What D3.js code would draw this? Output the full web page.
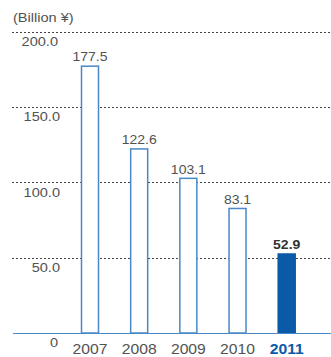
<!DOCTYPE html>
<html>
<head>
<meta charset="utf-8">
<script src="https://cdn.jsdelivr.net/npm/d3@7"></script>
<style>
  html, body { margin: 0; padding: 0; background: #fff; }
  svg { display: block; font-family: "Liberation Sans", Arial, Helvetica, sans-serif; }
</style>
</head>
<body>
<svg id="chart" width="331" height="357"></svg>
<script>
// Fiscal years and values (Billion ¥)
const years = ["2007", "2008", "2009", "2010", "2011"];
const values = [177.5, 122.6, 103.1, 83.1, 52.9];
const valueLabels = ["177.5", "122.6", "103.1", "83.1", "52.9"];
const tickValues = [0, 50, 100, 150, 200];
const tickLabels = ["0", "50.0", "100.0", "150.0", "200.0"];
const unitLabel = "(Billion ¥)";
const highlightYear = "2011";

const svg = d3.select("#chart");
const blue = "#0b5aa8";
const outline = "#4a88c8";
const textGrey = "#525252";
const sx = 1.12; // horizontal stretch of the lettering

const y = d3.scaleLinear().domain([0, 200]).range([333, 31.5]);
const x = d3.scalePoint().domain(years).range([90, 286.7]);
const barW = 18.5;

function stretchedText(g, tx, ty, str, anchor) {
  return g.append("text")
    .attr("transform", `translate(${tx},${ty}) scale(${sx},1)`)
    .attr("text-anchor", anchor)
    .text(str);
}

// unit label
stretchedText(svg, 13, 22, unitLabel, "start")
  .attr("font-size", 13).attr("fill", textGrey);

// dashed gridlines
svg.append("g").selectAll("line")
  .data(tickValues.filter(v => v > 0))
  .join("line")
  .attr("x1", 12).attr("x2", 331)
  .attr("y1", d => Math.round(y(d)) + 0.5)
  .attr("y2", d => Math.round(y(d)) + 0.5)
  .attr("stroke", "#444")
  .attr("stroke-width", 1)
  .attr("stroke-dasharray", "2,2");

// tick labels under each gridline
const tg = svg.append("g").attr("font-size", 13).attr("fill", textGrey);
tickValues.forEach((v, i) => {
  const ty = v === 0 ? 347 : y(v) + 14.5;
  const tx = v === 0 ? 58 : (v === 200 ? 58 : 60);
  stretchedText(tg, tx, ty, tickLabels[i], "end");
});

// bars
svg.append("g").selectAll("rect")
  .data(years)
  .join("rect")
  .attr("x", d => x(d) - barW / 2 + 0.75)
  .attr("width", barW - 1.5)
  .attr("y", (d, i) => y(values[i]) + 0.75)
  .attr("height", (d, i) => y(0) - y(values[i]) - 0.75)
  .attr("fill", d => d === highlightYear ? blue : "#fff")
  .attr("stroke", d => d === highlightYear ? blue : outline)
  .attr("stroke-width", 1.5);

// baseline
svg.append("line")
  .attr("x1", 13).attr("x2", 331)
  .attr("y1", y(0) + 0.5).attr("y2", y(0) + 0.5)
  .attr("stroke", outline).attr("stroke-width", 1.2);

// value labels
const vg = svg.append("g").attr("font-size", 12.5);
years.forEach((yr, i) => {
  const hl = yr === highlightYear;
  stretchedText(vg, x(yr), y(values[i]) - 4, valueLabels[i], "middle")
    .attr("fill", hl ? "#333" : textGrey)
    .attr("font-weight", hl ? "bold" : "normal");
});

// year labels
const yg = svg.append("g").attr("font-size", 14);
years.forEach(yr => {
  const hl = yr === highlightYear;
  stretchedText(yg, x(yr), 354, yr, "middle")
    .attr("fill", hl ? blue : textGrey)
    .attr("font-weight", hl ? "bold" : "normal");
});
</script>
</body>
</html>
